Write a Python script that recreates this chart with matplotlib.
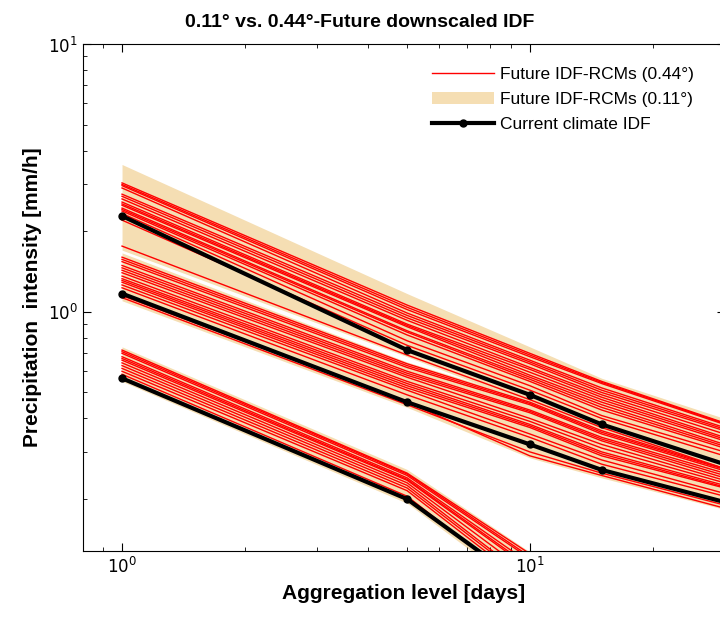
import matplotlib
matplotlib.use("Agg")
import matplotlib.pyplot as plt
from matplotlib.lines import Line2D
from matplotlib.patches import Patch
import numpy as np

plt.rcParams['font.family'] = ['Liberation Sans', 'DejaVu Sans']

# aggregation levels [days]
days = [1, 5, 10, 15, 30]

# current climate IDF (three return periods)
current_hi = [2.28, 0.72, 0.49, 0.38, 0.27]
current_mid = [1.17, 0.46, 0.32, 0.257, 0.195]
current_lo = [0.565, 0.20, 0.093, 0.07, 0.045]

# 0.11 deg envelope (min / max)
band_hi_top = [3.55, 1.17, 0.74, 0.565, 0.40]
band_hi_bot = [1.70, 0.68, 0.455, 0.355, 0.255]
band_mid_top = [1.66, 0.65, 0.47, 0.365, 0.265]
band_mid_bot = [1.10, 0.44, 0.285, 0.24, 0.183]
band_lo_top = [0.74, 0.258, 0.127, 0.092, 0.062]
band_lo_bot = [0.55, 0.193, 0.088, 0.066, 0.043]

# 0.44 deg RCM future IDF curves
rcm_hi = [
    [3.03, 1.06, 0.70, 0.55, 0.385],
    [2.99, 1.04, 0.69, 0.545, 0.383],
    [2.96, 1.02, 0.68, 0.54, 0.38],
    [2.90, 0.99, 0.66, 0.52, 0.37],
    [2.75, 0.97, 0.65, 0.51, 0.365],
    [2.70, 0.95, 0.64, 0.50, 0.36],
    [2.64, 0.93, 0.62, 0.49, 0.35],
    [2.57, 0.90, 0.61, 0.48, 0.34],
    [2.53, 0.89, 0.595, 0.47, 0.335],
    [2.50, 0.88, 0.58, 0.46, 0.33],
    [2.44, 0.85, 0.57, 0.45, 0.32],
    [2.41, 0.84, 0.56, 0.44, 0.315],
    [2.38, 0.82, 0.55, 0.43, 0.31],
    [2.33, 0.78, 0.53, 0.41, 0.30],
    [2.20, 0.75, 0.51, 0.40, 0.29],
    [1.76, 0.69, 0.47, 0.37, 0.26],
]
rcm_mid = [
    [1.60, 0.64, 0.46, 0.36, 0.26],
    [1.57, 0.63, 0.455, 0.355, 0.258],
    [1.54, 0.62, 0.45, 0.35, 0.255],
    [1.49, 0.60, 0.43, 0.34, 0.25],
    [1.46, 0.59, 0.425, 0.335, 0.245],
    [1.43, 0.58, 0.42, 0.33, 0.24],
    [1.40, 0.57, 0.40, 0.32, 0.235],
    [1.36, 0.55, 0.39, 0.31, 0.23],
    [1.33, 0.54, 0.38, 0.30, 0.225],
    [1.31, 0.53, 0.375, 0.295, 0.222],
    [1.29, 0.52, 0.37, 0.29, 0.22],
    [1.26, 0.51, 0.35, 0.28, 0.21],
    [1.23, 0.49, 0.34, 0.27, 0.205],
    [1.13, 0.45, 0.30, 0.25, 0.19],
    [1.15, 0.46, 0.29, 0.245, 0.185],
]
rcm_lo = [
    [0.72, 0.25, 0.125, 0.09, 0.06],
    [0.71, 0.248, 0.122, 0.089, 0.059],
    [0.70, 0.245, 0.12, 0.088, 0.058],
    [0.68, 0.24, 0.115, 0.085, 0.056],
    [0.67, 0.237, 0.112, 0.083, 0.055],
    [0.66, 0.235, 0.11, 0.082, 0.054],
    [0.645, 0.23, 0.105, 0.08, 0.052],
    [0.63, 0.225, 0.10, 0.077, 0.05],
    [0.615, 0.22, 0.098, 0.074, 0.049],
    [0.60, 0.215, 0.095, 0.072, 0.048],
    [0.585, 0.205, 0.09, 0.068, 0.046],
]

tan = '#F5DEB3'

fig = plt.figure(figsize=(7.2, 6.17), dpi=100)
ax = fig.add_axes([82.5 / 720, 66 / 617, 642 / 720, 507 / 617])

# envelopes
for top, bot in [(band_hi_top, band_hi_bot), (band_mid_top, band_mid_bot),
                 (band_lo_top, band_lo_bot)]:
    ax.fill_between(days, bot, top, color=tan, linewidth=0)

# RCM curves
for group in [rcm_hi, rcm_mid, rcm_lo]:
    for curve in group:
        ax.plot(days, curve, color='red', lw=1.0)

# current climate
for cur in [current_hi, current_mid, current_lo]:
    ax.plot(days, cur, color='black', lw=3, marker='o', ms=5)

ax.set_xscale('log')
ax.set_yscale('log')
ax.set_xlim(0.8, 30)
ax.set_ylim(0.128, 10)

ax.tick_params(which='both', direction='in', top=True, right=True,
               labelsize=12)
ax.tick_params(which='major', length=6)
ax.tick_params(which='minor', length=3)
ax.set_xticks([1, 10])
ax.set_xticklabels(['$10^{0}$', '$10^{1}$'])
ax.set_yticks([1, 10])
ax.set_yticklabels(['$10^{0}$', '$10^{1}$'])
ax.spines['right'].set_visible(False)

ax.set_xlabel('Aggregation level [days]', fontsize=15, fontweight='bold',
              labelpad=6)
ax.set_ylabel('Precipitation  intensity [mm/h]', fontsize=15,
              fontweight='bold', labelpad=4)
fig.text(0.5, 0.978, '0.11° vs. 0.44°-Future downscaled IDF', ha='center',
         va='top', fontsize=14, fontweight='bold')

handles = [
    Line2D([], [], color='red', lw=1),
    Patch(facecolor=tan, edgecolor='none'),
    Line2D([], [], color='black', lw=3, marker='o', ms=5),
]
labels = ['Future IDF-RCMs (0.44°)', 'Future IDF-RCMs (0.11°)',
          'Current climate IDF']
ax.legend(handles, labels, loc='upper left', bbox_to_anchor=(0.52, 0.985),
          frameon=False, fontsize=12.5, handlelength=3.6, handletextpad=0.3,
          labelspacing=0.55)

fig.savefig('out.png', dpi=100)
